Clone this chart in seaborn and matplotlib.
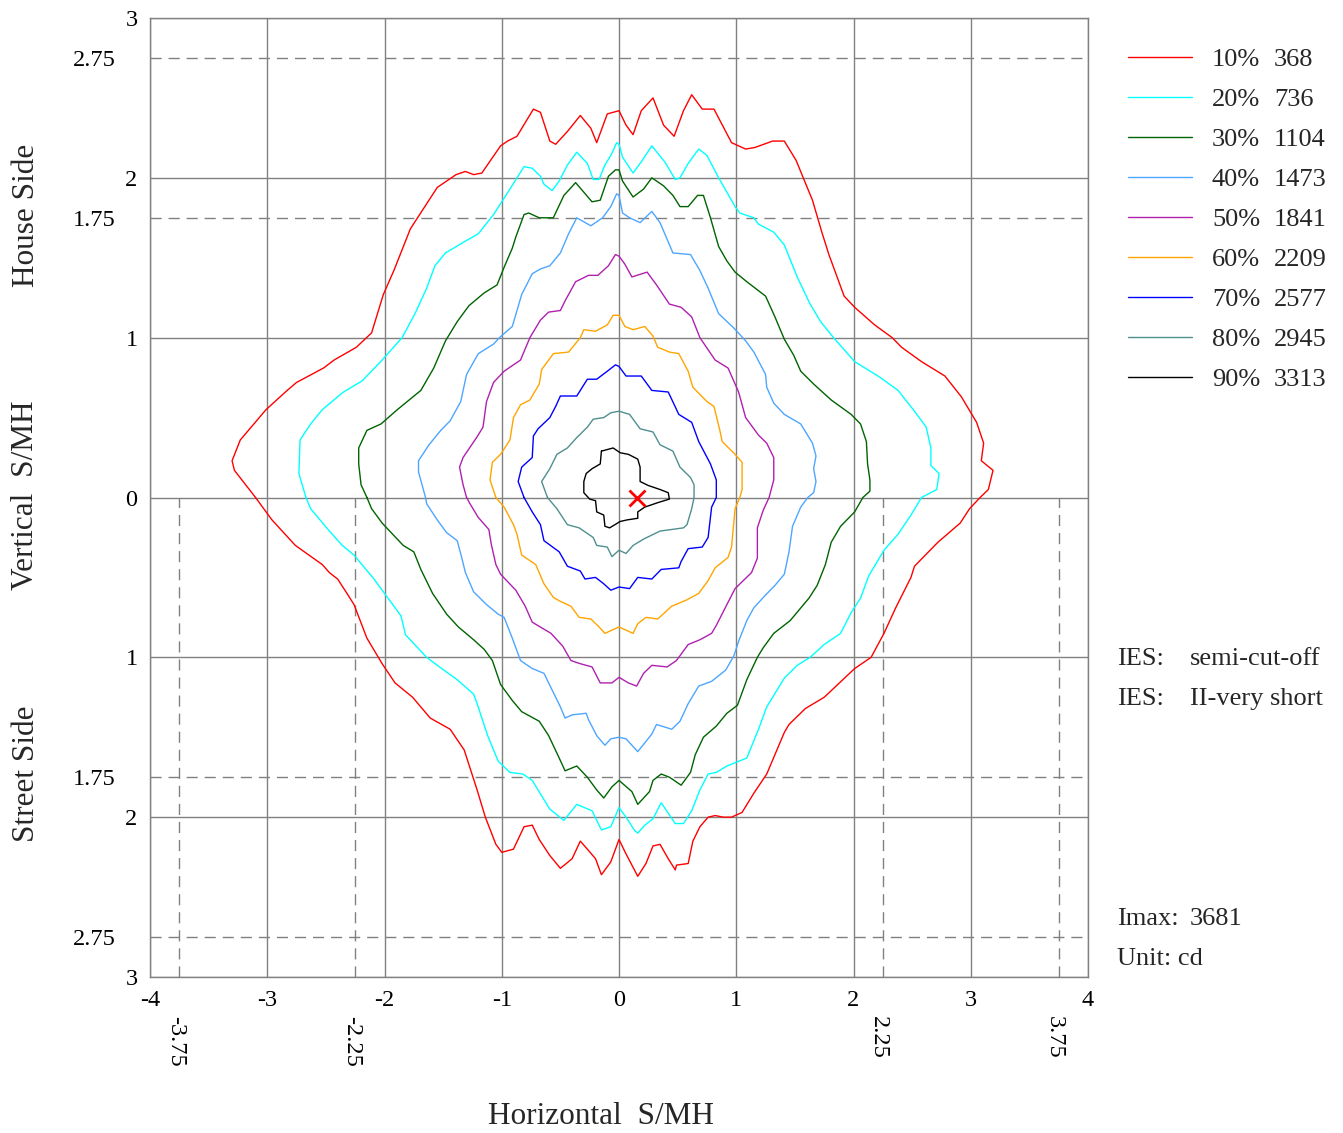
import matplotlib
matplotlib.use("Agg")
import matplotlib.pyplot as plt
import matplotlib.transforms as mtransforms
import seaborn as sns
import numpy as np
from matplotlib.lines import Line2D

# ---------------- data ----------------
levels_pct = ["10%", "20%", "30%", "40%", "50%", "60%", "70%", "80%", "90%"]
levels_cd = ["368", "736", "1104", "1473", "1841", "2209", "2577", "2945", "3313"]
colors = ["#ff0000", "#00ffff", "#006400", "#4da6ff", "#b020b0",
          "#ffa500", "#0000ff", "#4f8f8f", "#000000"]

c10 = [(-3.10, 0), (-3.28, 0.17), (-3.30, 0.23), (-3.23, 0.36), (-3.01, 0.55), (-2.83, 0.67), (-2.75, 0.72),
       (-2.52, 0.81), (-2.43, 0.86), (-2.24, 0.94), (-2.11, 1.03), (-2.01, 1.27), (-1.92, 1.42), (-1.78, 1.68),
       (-1.55, 1.94), (-1.39, 2.02), (-1.31, 2.04), (-1.24, 2.02), (-1.17, 2.03), (-1.01, 2.20), (-0.95, 2.23),
       (-0.87, 2.26), (-0.78, 2.37), (-0.73, 2.43), (-0.67, 2.41), (-0.59, 2.23), (-0.54, 2.21), (-0.44, 2.29),
       (-0.33, 2.39), (-0.24, 2.31), (-0.19, 2.22), (-0.10, 2.40), (0, 2.42),
       (0.06, 2.33), (0.12, 2.27), (0.19, 2.42), (0.29, 2.50), (0.38, 2.33), (0.47, 2.26), (0.55, 2.42),
       (0.62, 2.52), (0.71, 2.43), (0.81, 2.43), (0.96, 2.22), (1.08, 2.18), (1.16, 2.19), (1.31, 2.23),
       (1.41, 2.23), (1.51, 2.11), (1.65, 1.86), (1.73, 1.66), (1.79, 1.52), (1.92, 1.26), (2.01, 1.19),
       (2.18, 1.08), (2.33, 1.00), (2.41, 0.94), (2.58, 0.85), (2.78, 0.76), (2.92, 0.63), (3.05, 0.47),
       (3.11, 0.34), (3.09, 0.23), (3.19, 0.17), (3.15, 0.05), (3.08, 0),
       (2.99, -0.07), (2.91, -0.16), (2.72, -0.28), (2.52, -0.43), (2.49, -0.50), (2.36, -0.69), (2.26, -0.85),
       (2.15, -1.0), (2.01, -1.07), (1.75, -1.25), (1.59, -1.32), (1.45, -1.42), (1.41, -1.47), (1.26, -1.73),
       (1.15, -1.85), (1.05, -1.97), (0.96, -2.0), (0.89, -2.0), (0.82, -1.99), (0.76, -2.0), (0.69, -2.06),
       (0.63, -2.15), (0.59, -2.29), (0.49, -2.30), (0.48, -2.33), (0.42, -2.26), (0.35, -2.17), (0.29, -2.18),
       (0.23, -2.29), (0.16, -2.37), (0.06, -2.23), (0, -2.14),
       (-0.07, -2.28), (-0.15, -2.36), (-0.20, -2.26), (-0.27, -2.20), (-0.33, -2.15), (-0.40, -2.26),
       (-0.50, -2.32), (-0.59, -2.24), (-0.68, -2.14), (-0.74, -2.05), (-0.81, -2.06), (-0.90, -2.20),
       (-1.00, -2.22), (-1.05, -2.17), (-1.14, -2.0), (-1.21, -1.83), (-1.32, -1.58), (-1.44, -1.45),
       (-1.61, -1.38), (-1.76, -1.25), (-1.91, -1.16), (-2.02, -1.04), (-2.15, -0.88), (-2.26, -0.67),
       (-2.32, -0.60), (-2.40, -0.51), (-2.47, -0.47), (-2.53, -0.42), (-2.76, -0.30), (-2.86, -0.22),
       (-2.96, -0.14)]

c20 = [(-2.67, 0), (-2.73, 0.15), (-2.72, 0.36), (-2.63, 0.46), (-2.53, 0.55), (-2.35, 0.66), (-2.19, 0.73),
       (-2.02, 0.86), (-1.85, 1.0), (-1.74, 1.15), (-1.64, 1.31), (-1.57, 1.45), (-1.48, 1.53), (-1.32, 1.60),
       (-1.20, 1.65), (-1.07, 1.77), (-0.93, 1.93), (-0.81, 2.07), (-0.74, 2.06), (-0.67, 2.01), (-0.64, 1.96),
       (-0.57, 1.92), (-0.51, 1.98), (-0.44, 2.08), (-0.36, 2.16), (-0.27, 2.09), (-0.22, 1.99), (-0.17, 1.99),
       (-0.12, 2.08), (-0.07, 2.14), (-0.05, 2.17), (-0.02, 2.22),
       (0, 2.21), (0.03, 2.13), (0.12, 2.03), (0.19, 2.10), (0.28, 2.20), (0.39, 2.10), (0.48, 1.99), (0.52, 2.0),
       (0.59, 2.09), (0.68, 2.18), (0.75, 2.14), (0.85, 2.0), (0.99, 1.82), (1.03, 1.78), (1.15, 1.75),
       (1.19, 1.71), (1.32, 1.66), (1.41, 1.58), (1.52, 1.38), (1.63, 1.21), (1.72, 1.10), (1.83, 1.0),
       (2.01, 0.85), (2.23, 0.75), (2.38, 0.67), (2.52, 0.54), (2.62, 0.44), (2.66, 0.31), (2.66, 0.20),
       (2.73, 0.15), (2.71, 0.05), (2.58, 0),
       (2.49, -0.11), (2.38, -0.23), (2.26, -0.33), (2.13, -0.49), (2.06, -0.63), (1.98, -0.72), (1.89, -0.85),
       (1.75, -0.92), (1.63, -1.0), (1.52, -1.05), (1.41, -1.13), (1.26, -1.31), (1.19, -1.45), (1.09, -1.63),
       (0.92, -1.68), (0.83, -1.72), (0.76, -1.73), (0.69, -1.83), (0.62, -1.96), (0.55, -2.04), (0.48, -2.04),
       (0.36, -1.91), (0.29, -2.01), (0.22, -2.05), (0.16, -2.10), (0.13, -2.08), (0.06, -2.0), (0, -1.94),
       (-0.07, -2.06), (-0.15, -2.08), (-0.23, -1.96), (-0.36, -1.92), (-0.47, -2.02), (-0.59, -1.95),
       (-0.74, -1.77), (-0.82, -1.73), (-0.93, -1.72), (-1.03, -1.65), (-1.12, -1.49), (-1.21, -1.29),
       (-1.24, -1.23), (-1.38, -1.14), (-1.55, -1.05), (-1.64, -1.0), (-1.82, -0.86), (-1.86, -0.74),
       (-2.01, -0.59), (-2.09, -0.51), (-2.26, -0.36), (-2.36, -0.30), (-2.47, -0.21), (-2.63, -0.07)]

c30 = [(-2.15, 0), (-2.20, 0.08), (-2.22, 0.21), (-2.22, 0.31), (-2.15, 0.42), (-2.03, 0.46), (-1.89, 0.55),
       (-1.69, 0.67), (-1.58, 0.81), (-1.48, 0.98), (-1.38, 1.10), (-1.28, 1.20), (-1.15, 1.28), (-1.04, 1.33),
       (-0.98, 1.44), (-0.91, 1.56), (-0.88, 1.63), (-0.81, 1.77), (-0.77, 1.78), (-0.71, 1.76), (-0.68, 1.75),
       (-0.56, 1.75), (-0.47, 1.89), (-0.37, 1.97), (-0.30, 1.91), (-0.23, 1.85), (-0.16, 1.86), (-0.09, 2.01),
       (-0.03, 2.05), (0, 2.05),
       (0.03, 1.98), (0.12, 1.88), (0.21, 1.93), (0.28, 2.0), (0.38, 1.95), (0.46, 1.89), (0.52, 1.82),
       (0.59, 1.82), (0.67, 1.89), (0.72, 1.89), (0.78, 1.75), (0.85, 1.57), (0.92, 1.48), (0.99, 1.41),
       (1.09, 1.35), (1.25, 1.26), (1.33, 1.13), (1.41, 0.99), (1.49, 0.89), (1.55, 0.79), (1.66, 0.71),
       (1.81, 0.61), (1.98, 0.52), (2.06, 0.46), (2.11, 0.35), (2.12, 0.21), (2.14, 0.11), (2.14, 0.04), (2.08, 0),
       (2.01, -0.09), (1.89, -0.18), (1.81, -0.28), (1.76, -0.42), (1.69, -0.55), (1.62, -0.63), (1.46, -0.77),
       (1.32, -0.85), (1.23, -0.94), (1.18, -1.0), (1.09, -1.14), (1.01, -1.30), (0.92, -1.35), (0.83, -1.43),
       (0.72, -1.50), (0.65, -1.61), (0.61, -1.72), (0.53, -1.80), (0.49, -1.78), (0.43, -1.75), (0.36, -1.73),
       (0.29, -1.77), (0.26, -1.84), (0.16, -1.92), (0.11, -1.84), (0, -1.77),
       (-0.06, -1.81), (-0.13, -1.88), (-0.19, -1.83), (-0.27, -1.75), (-0.36, -1.68), (-0.46, -1.71),
       (-0.51, -1.63), (-0.60, -1.49), (-0.68, -1.40), (-0.83, -1.34), (-0.91, -1.27), (-1.01, -1.17),
       (-1.08, -1.02), (-1.15, -0.95), (-1.24, -0.89), (-1.37, -0.81), (-1.47, -0.73), (-1.59, -0.60),
       (-1.69, -0.45), (-1.75, -0.34), (-1.84, -0.30), (-1.93, -0.23), (-2.02, -0.16), (-2.11, -0.07)]

c40 = [(-1.65, 0), (-1.71, 0.16), (-1.71, 0.23), (-1.62, 0.33), (-1.52, 0.42), (-1.44, 0.48), (-1.35, 0.60),
       (-1.30, 0.77), (-1.20, 0.90), (-1.07, 0.96), (-1.02, 1.0), (-0.91, 1.07), (-0.83, 1.27), (-0.74, 1.40),
       (-0.67, 1.43), (-0.59, 1.45), (-0.50, 1.53), (-0.43, 1.65), (-0.36, 1.75), (-0.24, 1.70), (-0.14, 1.75),
       (-0.07, 1.82), (-0.02, 1.90),
       (0, 1.89), (0.03, 1.78), (0.09, 1.75), (0.18, 1.72), (0.28, 1.79), (0.35, 1.72), (0.46, 1.53), (0.61, 1.52),
       (0.69, 1.42), (0.76, 1.31), (0.85, 1.15), (0.98, 1.06), (1.08, 0.98), (1.15, 0.91), (1.25, 0.77),
       (1.26, 0.69), (1.32, 0.59), (1.41, 0.52), (1.55, 0.46), (1.65, 0.34), (1.68, 0.26), (1.66, 0.18),
       (1.68, 0.10), (1.66, 0.03), (1.61, 0),
       (1.55, -0.06), (1.48, -0.18), (1.45, -0.34), (1.41, -0.48), (1.33, -0.55), (1.25, -0.61), (1.15, -0.69),
       (1.09, -0.77), (1.02, -0.90), (0.98, -0.99), (0.91, -1.08), (0.79, -1.15), (0.68, -1.18), (0.59, -1.29),
       (0.52, -1.40), (0.45, -1.45), (0.32, -1.42), (0.28, -1.48), (0.16, -1.59), (0.06, -1.51), (0, -1.50),
       (-0.07, -1.51), (-0.12, -1.55), (-0.19, -1.49), (-0.26, -1.39), (-0.28, -1.35), (-0.40, -1.36),
       (-0.46, -1.38), (-0.50, -1.31), (-0.64, -1.10), (-0.74, -1.07), (-0.84, -1.02), (-0.91, -0.88),
       (-0.98, -0.75), (-1.03, -0.73), (-1.13, -0.67), (-1.24, -0.59), (-1.31, -0.47), (-1.34, -0.38),
       (-1.38, -0.27), (-1.47, -0.22), (-1.55, -0.14), (-1.64, -0.04)]

c50 = [(-1.30, 0), (-1.33, 0.08), (-1.36, 0.19), (-1.33, 0.25), (-1.21, 0.38), (-1.16, 0.44), (-1.13, 0.60),
       (-1.07, 0.72), (-0.98, 0.79), (-0.84, 0.86), (-0.76, 1.0), (-0.67, 1.11), (-0.60, 1.16), (-0.50, 1.17),
       (-0.46, 1.23), (-0.37, 1.35), (-0.26, 1.39), (-0.18, 1.39), (-0.09, 1.45), (-0.03, 1.52), (0, 1.51),
       (0.05, 1.46), (0.11, 1.38), (0.24, 1.41), (0.32, 1.33), (0.43, 1.21), (0.53, 1.19), (0.62, 1.13),
       (0.69, 1.0), (0.82, 0.86), (0.93, 0.81), (1.02, 0.66), (1.08, 0.50), (1.19, 0.39), (1.26, 0.34),
       (1.32, 0.25), (1.32, 0.11), (1.28, 0),
       (1.23, -0.08), (1.18, -0.19), (1.18, -0.38), (1.13, -0.47), (0.99, -0.57), (0.92, -0.67), (0.83, -0.80),
       (0.79, -0.85), (0.69, -0.89), (0.59, -0.92), (0.49, -1.02), (0.41, -1.06), (0.28, -1.05), (0.21, -1.10),
       (0.15, -1.18), (0.08, -1.16), (0, -1.125),
       (-0.06, -1.16), (-0.16, -1.16), (-0.23, -1.06), (-0.33, -1.04), (-0.41, -1.02), (-0.48, -0.93),
       (-0.58, -0.85), (-0.74, -0.78), (-0.80, -0.68), (-0.88, -0.58), (-1.01, -0.48), (-1.05, -0.42),
       (-1.09, -0.29), (-1.11, -0.20), (-1.20, -0.125), (-1.27, -0.04)]

c60 = [(-1.05, 0), (-1.10, 0.11), (-1.08, 0.22), (-1.01, 0.27), (-0.93, 0.36), (-0.90, 0.50), (-0.84, 0.58),
       (-0.76, 0.61), (-0.68, 0.71), (-0.66, 0.80), (-0.56, 0.90), (-0.43, 0.91), (-0.33, 1.0), (-0.30, 1.05),
       (-0.20, 1.04), (-0.10, 1.08), (-0.05, 1.14), (0, 1.14),
       (0.05, 1.07), (0.12, 1.05), (0.22, 1.07), (0.29, 1.01), (0.33, 0.94), (0.43, 0.91), (0.51, 0.90),
       (0.59, 0.79), (0.63, 0.69), (0.75, 0.60), (0.81, 0.57), (0.86, 0.42), (0.88, 0.35), (0.99, 0.27),
       (1.05, 0.22), (1.05, 0.05), (1.03, 0),
       (0.99, -0.07), (0.96, -0.31), (0.93, -0.375), (0.82, -0.44), (0.76, -0.52), (0.68, -0.60), (0.58, -0.64),
       (0.45, -0.68), (0.33, -0.76), (0.23, -0.75), (0.16, -0.79), (0.12, -0.85), (0.03, -0.82), (0, -0.81),
       (-0.12, -0.85), (-0.17, -0.81), (-0.24, -0.76), (-0.34, -0.75), (-0.41, -0.68), (-0.50, -0.65),
       (-0.56, -0.625), (-0.64, -0.54), (-0.71, -0.42), (-0.83, -0.36), (-0.87, -0.23), (-0.90, -0.17),
       (-0.98, -0.06)]

c70 = [(-0.81, 0), (-0.86, 0.10), (-0.83, 0.19), (-0.74, 0.25), (-0.73, 0.385), (-0.69, 0.43), (-0.59, 0.50),
       (-0.54, 0.57), (-0.50, 0.635), (-0.36, 0.635), (-0.27, 0.74), (-0.19, 0.74), (-0.10, 0.79), (-0.03, 0.83),
       (0, 0.82), (0.06, 0.76), (0.19, 0.76), (0.28, 0.67), (0.42, 0.66), (0.51, 0.52), (0.62, 0.47),
       (0.68, 0.35), (0.78, 0.21), (0.83, 0.11), (0.83, 0),
       (0.79, -0.06), (0.76, -0.25), (0.71, -0.31), (0.59, -0.32), (0.53, -0.40), (0.51, -0.44), (0.36, -0.45),
       (0.28, -0.51), (0.16, -0.50), (0.09, -0.57), (0, -0.56),
       (-0.07, -0.58), (-0.13, -0.54), (-0.20, -0.50), (-0.29, -0.51), (-0.33, -0.46), (-0.44, -0.43),
       (-0.51, -0.34), (-0.64, -0.27), (-0.67, -0.17), (-0.74, -0.09)]

c80 = [(-0.61, 0), (-0.66, 0.10), (-0.59, 0.18), (-0.53, 0.27), (-0.44, 0.31), (-0.36, 0.375), (-0.27, 0.44),
       (-0.22, 0.49), (-0.13, 0.50), (-0.07, 0.53), (0, 0.54),
       (0.09, 0.52), (0.18, 0.43), (0.29, 0.41), (0.35, 0.33), (0.46, 0.29), (0.52, 0.19), (0.61, 0.125),
       (0.64, 0.08), (0.64, 0),
       (0.62, -0.07), (0.58, -0.17), (0.55, -0.19), (0.35, -0.21), (0.21, -0.26), (0.12, -0.30), (0.06, -0.35),
       (0, -0.33),
       (-0.06, -0.37), (-0.10, -0.31), (-0.19, -0.30), (-0.22, -0.25), (-0.34, -0.19), (-0.44, -0.17),
       (-0.53, -0.07)]

c90 = [(-0.15, 0.29), (-0.05, 0.31), (0.01, 0.28), (0.08, 0.27), (0.16, 0.24), (0.18, 0.19), (0.18, 0.10),
       (0.25, 0.075), (0.35, 0.05), (0.42, 0.03), (0.43, -0.01), (0.34, -0.03), (0.22, -0.06), (0.16, -0.09),
       (0.16, -0.13), (0.07, -0.14), (0.01, -0.15), (-0.08, -0.19), (-0.12, -0.18), (-0.13, -0.11),
       (-0.19, -0.09), (-0.20, -0.02), (-0.25, -0.01), (-0.30, 0.03), (-0.30, 0.10), (-0.28, 0.15),
       (-0.23, 0.18), (-0.16, 0.21)]

contours = [c10, c20, c30, c40, c50, c60, c70, c80, c90]

imax_x = [0.15]
imax_y = [0.0]

ytick_major = [-3, -2, -1, 0, 1, 2, 3]
ytick_major_labels = ["3", "2", "1", "0", "1", "2", "3"]
ytick_minor = [-2.75, -1.75, 1.75, 2.75]
ytick_minor_labels = ["2.75", "1.75", "1.75", "2.75"]
xtick_major = [-4, -3, -2, -1, 0, 1, 2, 3, 4]
xtick_major_labels = ["-4", "-3", "-2", "-1", "0", "1", "2", "3", "4"]
xtick_minor = [-3.75, -2.25, 2.25, 3.75]
xtick_minor_labels = ["-3.75", "-2.25", "2.25", "3.75"]

# ---------------- style ----------------
sns.set_theme(style="white")
plt.rcParams["font.family"] = ["Liberation Serif", "DejaVu Serif"]
plt.rcParams["axes.unicode_minus"] = False

W, H = 1343, 1133
fig = plt.figure(figsize=(W / 100, H / 100), dpi=100)
L, R, T, B = 150, 1088, 18, 977
ax = fig.add_axes([L / W, 1 - B / H, (R - L) / W, (B - T) / H])
ax.set_xlim(-4, 4)
ax.set_ylim(-3, 3)

gridc = "#808080"
ax.grid(True, which="major", color=gridc, lw=1.0)
ax.set_axisbelow(True)
for s in ax.spines.values():
    s.set_color(gridc)
    s.set_linewidth(1.0)

dash = (0, (8, 5))
for yv in ytick_minor:
    ax.axhline(yv, color=gridc, lw=1.0, ls=dash, zorder=1)
ax.vlines(xtick_minor, -3, 0, color=gridc, lw=1.0, linestyles=[dash], zorder=1)

# contours
for pts, col in zip(contours, colors):
    xs = [p[0] for p in pts] + [pts[0][0]]
    ys = [p[1] for p in pts] + [pts[0][1]]
    sns.lineplot(x=xs, y=ys, sort=False, estimator=None, color=col, lw=1.0, ax=ax)

ax.plot(imax_x, imax_y, marker="x", color="red", ms=12, mew=2, ls="none", zorder=5)

# ticks
ax.set_yticks(ytick_major)
ax.set_yticklabels(ytick_major_labels)
ax.set_yticks(ytick_minor, minor=True)
ax.set_yticklabels(ytick_minor_labels, minor=True)
ax.set_xticks(xtick_major)
ax.set_xticklabels(xtick_major_labels)
ax.set_xticks(xtick_minor, minor=True)
ax.set_xticklabels(xtick_minor_labels, minor=True, rotation=-90)
ax.tick_params(axis="both", which="both", length=0, labelsize=17.5, colors="black")
ax.tick_params(axis="y", which="major", pad=9)
ax.tick_params(axis="y", which="minor", pad=25)
ax.tick_params(axis="x", which="major", pad=9)
ax.tick_params(axis="x", which="minor", pad=28)
shift = mtransforms.ScaledTranslation(-4 / 100, 0, fig.dpi_scale_trans)
for lbl in ax.get_xticklabels(minor=True):
    lbl.set_transform(lbl.get_transform() + shift)
ax.set_xlabel("")
ax.set_ylabel("")

def fx(px):
    return px / W

def fy(py):
    return 1 - py / H

lab = 22.5
fig.text(fx(601), fy(1117), "Horizontal  S/MH", ha="center", va="center", fontsize=lab)
fig.text(fx(26), fy(495), "Vertical  S/MH", ha="center", va="center", rotation=90, fontsize=lab)
fig.text(fx(26), fy(215), "House Side", ha="center", va="center", rotation=90, fontsize=lab)
fig.text(fx(26), fy(774), "Street Side", ha="center", va="center", rotation=90, fontsize=lab)

# legend
for i, (pct, cd, col) in enumerate(zip(levels_pct, levels_cd, colors)):
    yy = 57 + 40 * i
    fig.add_artist(Line2D([fx(1128), fx(1192)], [fy(yy), fy(yy)], color=col, lw=1.0))
    fig.text(fx(1212), fy(yy + 3), pct, ha="left", va="center", fontsize=19)
    fig.text(fx(1274), fy(yy + 3), cd, ha="left", va="center", fontsize=19)

fig.text(fx(1117), fy(659), "IES:", ha="left", va="center", fontsize=19)
fig.text(fx(1190), fy(659), "semi-cut-off", ha="left", va="center", fontsize=19)
fig.text(fx(1117), fy(699), "IES:", ha="left", va="center", fontsize=19)
fig.text(fx(1190), fy(699), "II-very short", ha="left", va="center", fontsize=19)
fig.text(fx(1117), fy(919), "Imax:", ha="left", va="center", fontsize=19)
fig.text(fx(1190), fy(919), "3681", ha="left", va="center", fontsize=19)
fig.text(fx(1117), fy(959), "Unit: cd", ha="left", va="center", fontsize=19)

fig.savefig("out.png", dpi=100)
